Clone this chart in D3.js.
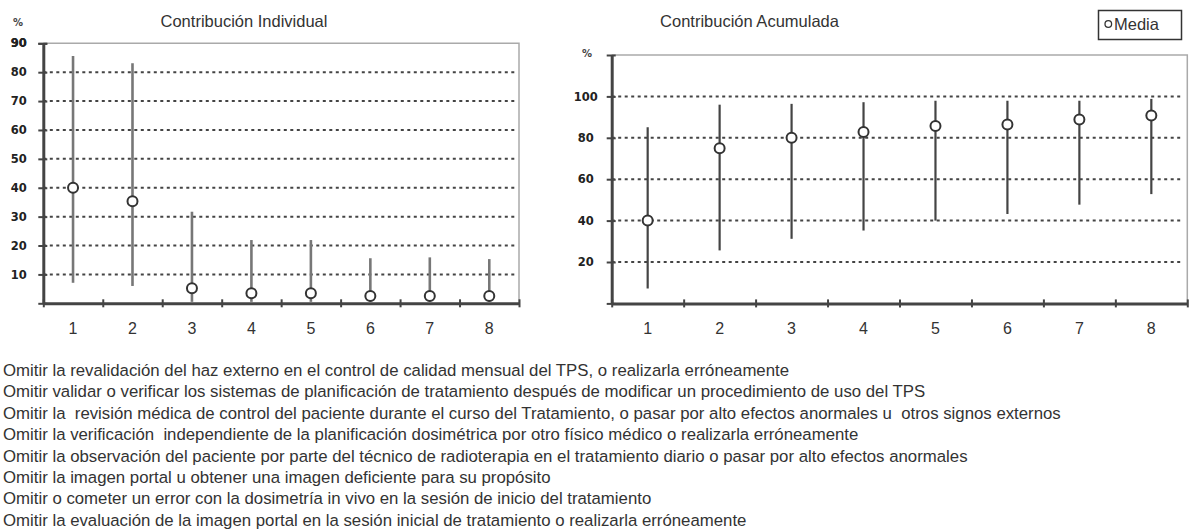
<!DOCTYPE html>
<html>
<head>
<meta charset="utf-8">
<script src="https://cdn.jsdelivr.net/npm/d3@7"></script>
<style>
  body { margin: 0; background: #fff; }
</style>
</head>
<body>
<div id="chart"></div>
<script>
// data
var categories = ["1", "2", "3", "4", "5", "6", "7", "8"];

var indivMean = [40, 35.3, 5.2, 3.5, 3.5, 2.5, 2.5, 2.5];
var indivLow  = [7.1, 6, 0.5, 0.5, 0.5, 0.5, 0.5, 0.5];
var indivHigh = [85.6, 83.1, 31.7, 21.9, 21.9, 15.6, 15.9, 15.3];

var acumMean = [40, 75, 80, 82.8, 85.7, 86.4, 88.8, 90.8];
var acumLow  = [7.2, 25.6, 31.2, 35.2, 40, 43.2, 47.7, 52.8];
var acumHigh = [85.1, 96, 96.4, 97.2, 97.9, 97.9, 97.9, 98.8];

var indivTicks = [10, 20, 30, 40, 50, 60, 70, 80, 90];
var acumTicks = [20, 40, 60, 80, 100];

var descriptions = [
  "Omitir la revalidación del haz externo en el control de calidad mensual del TPS, o realizarla erróneamente",
  "Omitir validar o verificar los sistemas de planificación de tratamiento después de modificar un procedimiento de uso del TPS",
  "Omitir la  revisión médica de control del paciente durante el curso del Tratamiento, o pasar por alto efectos anormales u  otros signos externos",
  "Omitir la verificación  independiente de la planificación dosimétrica por otro físico médico o realizarla erróneamente",
  "Omitir la observación del paciente por parte del técnico de radioterapia en el tratamiento diario o pasar por alto efectos anormales",
  "Omitir la imagen portal u obtener una imagen deficiente para su propósito",
  "Omitir o cometer un error con la dosimetría in vivo en la sesión de inicio del tratamiento",
  "Omitir la evaluación de la imagen portal en la sesión inicial de tratamiento o realizarla erróneamente"
];

var svg = d3.select("#chart")
  .append("svg")
    .attr("width", 1190)
    .attr("height", 531);

var textFont = "'Liberation Sans', Arial, sans-serif";
var tickFont = "'DejaVu Sans', sans-serif";

function panel(opt) {
  var rows = categories.map(function(c, i) {
    return {cat: c, mean: opt.mean[i], low: opt.low[i], high: opt.high[i]};
  });

  var x = d3.scaleBand()
    .domain(categories)
    .range([opt.left, opt.right]);

  // linear copy of the band range, used for the ticks between categories
  var xEdge = d3.scaleLinear()
    .domain([0, categories.length])
    .range([opt.left, opt.right]);

  var y = d3.scaleLinear()
    .domain(opt.domain)
    .range([opt.bottom, opt.top]);

  var g = svg.append("g");

  // plot frame, top and right
  g.append("path")
    .attr("d", "M" + opt.left + "," + opt.top + "H" + opt.right + "V" + opt.bottom)
    .attr("fill", "none")
    .attr("stroke", "#aaa")
    .attr("stroke-width", 1.5);

  // dotted grid
  g.selectAll(".grid")
    .data(opt.ticks.filter(function(t) { return y(t) > opt.top + 1; }))
    .enter()
    .append("line")
      .attr("x1", opt.left)
      .attr("x2", opt.right - 4)
      .attr("y1", function(d) { return y(d); })
      .attr("y2", function(d) { return y(d); })
      .attr("stroke", "#444")
      .attr("stroke-width", 2)
      .attr("stroke-dasharray", "3,3.5");

  // Y axis
  var yAxis = g.append("g")
    .attr("transform", "translate(" + opt.left + ",0)")
    .call(d3.axisLeft(y).tickValues([0].concat(opt.ticks).concat(opt.domain[1]))
      .tickSize(5).tickSizeOuter(0)
      .tickFormat(function(d) { return opt.ticks.indexOf(d) >= 0 ? d : ""; }));
  yAxis.select(".domain").attr("stroke", "#444").attr("stroke-width", 3);
  yAxis.selectAll(".tick line").attr("x1", 4).attr("stroke", "#444").attr("stroke-width", 2);
  yAxis.selectAll(".tick text")
    .attr("x", -opt.labelOffset)
    .attr("text-anchor", "middle")
    .attr("font-family", tickFont)
    .attr("font-weight", "bold")
    .attr("font-size", "11.5px")
    .attr("fill", "#222");

  // X axis: line + ticks between categories
  var xTicks = g.append("g")
    .attr("transform", "translate(0," + opt.bottom + ")")
    .call(d3.axisBottom(xEdge).tickValues(d3.range(categories.length + 1))
      .tickSize(4).tickSizeOuter(0).tickFormat(""));
  xTicks.select(".domain").attr("stroke", "#444").attr("stroke-width", 3);
  xTicks.selectAll(".tick line").attr("y1", -4).attr("stroke", "#444").attr("stroke-width", 2);

  // X labels
  var xAxis = g.append("g")
    .attr("transform", "translate(0," + opt.bottom + ")")
    .call(d3.axisBottom(x).tickSize(0).tickPadding(19));
  xAxis.select(".domain").remove();
  xAxis.selectAll("text")
    .attr("font-family", textFont)
    .attr("font-size", "16px")
    .attr("fill", "#333");

  // "%" label
  g.append("text")
    .attr("x", opt.pctX)
    .attr("y", opt.pctY)
    .attr("text-anchor", "middle")
    .text("%")
    .attr("font-family", tickFont)
    .attr("font-weight", "bold")
    .attr("font-size", "10px")
    .attr("fill", "#444");

  // title
  g.append("text")
    .attr("x", opt.titleX)
    .attr("y", 27)
    .attr("text-anchor", "middle")
    .text(opt.title)
    .attr("font-family", textFont)
    .attr("font-size", "16.5px")
    .attr("fill", "#333");

  // ranges
  g.selectAll(".stem")
    .data(rows)
    .enter()
    .append("line")
      .attr("x1", function(d) { return x(d.cat) + x.bandwidth() / 2; })
      .attr("x2", function(d) { return x(d.cat) + x.bandwidth() / 2; })
      .attr("y1", function(d) { return y(d.low); })
      .attr("y2", function(d) { return y(d.high); })
      .attr("stroke", opt.stemColor)
      .attr("stroke-width", opt.stemWidth);

  // means
  g.selectAll(".mean")
    .data(rows)
    .enter()
    .append("circle")
      .attr("cx", function(d) { return x(d.cat) + x.bandwidth() / 2; })
      .attr("cy", function(d) { return y(d.mean); })
      .attr("r", 5)
      .attr("fill", "#fff")
      .attr("stroke", "#333")
      .attr("stroke-width", 2);
}

panel({
  title: "Contribución Individual", titleX: 244,
  mean: indivMean, low: indivLow, high: indivHigh,
  ticks: indivTicks, domain: [0, 90],
  left: 43.3, right: 519, top: 43.3, bottom: 303.3,
  labelOffset: 24.5, pctX: 18, pctY: 26,
  stemColor: "#777", stemWidth: 2.6
});

panel({
  title: "Contribución Acumulada", titleX: 749.5,
  mean: acumMean, low: acumLow, high: acumHigh,
  ticks: acumTicks, domain: [0, 120],
  left: 611.7, right: 1187.3, top: 55, bottom: 303.4,
  labelOffset: 26, pctX: 587, pctY: 57,
  stemColor: "#444", stemWidth: 2.2
});

// Legend
var legend = svg.append("g");
legend.append("rect")
  .attr("x", 1098.5).attr("y", 10.5)
  .attr("width", 83).attr("height", 29)
  .attr("fill", "#fff")
  .attr("stroke", "#333")
  .attr("stroke-width", 1.5);
legend.append("circle")
  .attr("cx", 1108.3).attr("cy", 24)
  .attr("r", 3.3)
  .attr("fill", "#fff")
  .attr("stroke", "#333")
  .attr("stroke-width", 1.3);
legend.append("text")
  .attr("x", 1114).attr("y", 30)
  .text("Media")
  .attr("font-family", textFont)
  .attr("font-size", "16.5px")
  .attr("fill", "#333");

// descriptions below the charts
svg.append("g")
  .selectAll("text")
  .data(descriptions)
  .enter()
  .append("text")
    .attr("x", 3)
    .attr("y", function(d, i) { return 376 + i * 21.4; })
    .style("white-space", "pre")
    .text(function(d) { return d; })
    .attr("font-family", textFont)
    .attr("font-size", "16.8px")
    .attr("fill", "#333");
</script>
</body>
</html>
